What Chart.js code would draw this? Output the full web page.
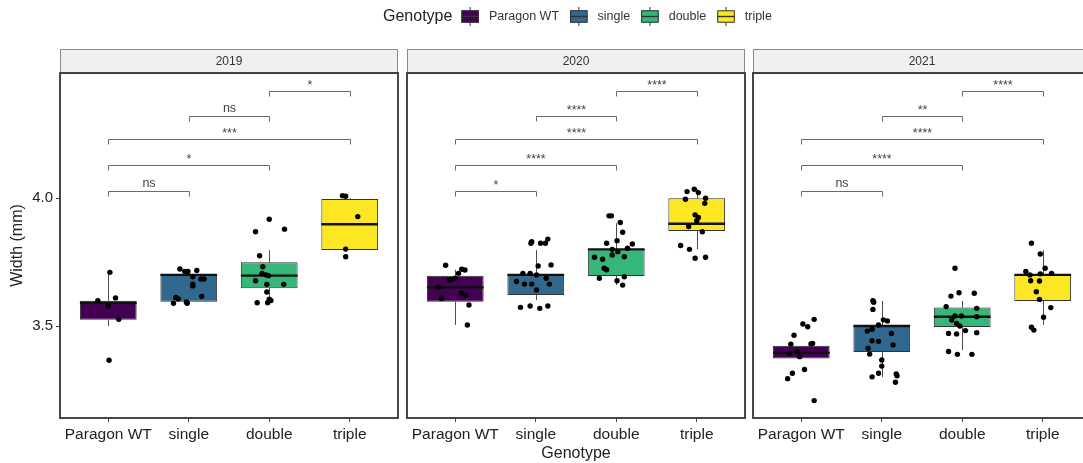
<!DOCTYPE html>
<html>
<head>
<meta charset="utf-8">
<script src="https://cdn.jsdelivr.net/npm/chart.js@4.4.1/dist/chart.umd.min.js"></script>
<style>
  html, body { margin: 0; padding: 0; background: #fff; }
  #wrap { position: relative; width: 1083px; height: 463px; overflow: hidden; background: #fff; }
  #wrap canvas { position: absolute; left: 0; top: 0; }
</style>
</head>
<body>
<div id="wrap">
  <canvas id="c0" width="1100" height="463"></canvas>
  <canvas id="c1" width="1100" height="463"></canvas>
  <canvas id="c2" width="1100" height="463"></canvas>
</div>
<script>
// ---- data ----
const years = ['2019', '2020', '2021'];
const genotypes = ['Paragon WT', 'single', 'double', 'triple'];
const genotypeColors = ['#440154', '#31688E', '#35B779', '#FDE725'];
const yTicks = [3.5, 4.0];
const yTickLabels = ['3.5', '4.0'];

// box summaries: one row per year, one entry per genotype
const whiskerLow    = [[3.500, 3.589, 3.590, 3.797], [3.504, 3.602, 3.660, 3.800], [3.373, 3.300, 3.406, 3.504]];
const lowerQuartile = [[3.524, 3.595, 3.648, 3.797], [3.595, 3.621, 3.696, 3.872], [3.373, 3.398, 3.496, 3.598]];
const medianWidth   = [[3.590, 3.700, 3.697, 3.898], [3.651, 3.700, 3.800, 3.900], [3.395, 3.500, 3.536, 3.700]];
const upperQuartile = [[3.599, 3.700, 3.749, 3.997], [3.697, 3.700, 3.800, 4.000], [3.423, 3.501, 3.572, 3.700]];
const whiskerHigh   = [[3.710, 3.720, 3.797, 4.000], [3.720, 3.797, 3.902, 4.035], [3.423, 3.598, 3.598, 3.797]];

// individual grain widths (mm) and their horizontal jitter (category units)
const widths2019 = [
  [3.710, 3.610, 3.599, 3.578, 3.526, 3.366],
  [3.723, 3.713, 3.713, 3.717, 3.693, 3.684, 3.684, 3.664, 3.657, 3.616, 3.612, 3.606, 3.589, 3.594, 3.589],
  [3.918, 3.869, 3.879, 3.775, 3.732, 3.706, 3.700, 3.697, 3.677, 3.663, 3.663, 3.633, 3.605, 3.591, 3.591, 3.600],
  [4.010, 4.008, 3.928, 3.801, 3.771]
];
const jitter2019 = [
  [0.02, 0.09, -0.13, 0.00, 0.13, 0.01],
  [-0.11, -0.05, -0.01, 0.10, 0.05, 0.15, 0.19, 0.05, 0.05, 0.16, -0.16, -0.13, -0.19, -0.03, -0.02],
  [0.00, -0.17, 0.19, -0.12, -0.08, -0.09, -0.04, -0.01, -0.17, -0.03, 0.18, -0.03, 0.00, -0.15, -0.02, 0.02],
  [-0.09, -0.05, 0.10, -0.05, -0.05]
];
const widths2020 = [
  [3.738, 3.722, 3.719, 3.706, 3.687, 3.680, 3.682, 3.652, 3.628, 3.620, 3.582, 3.504, 3.608],
  [3.824, 3.830, 3.824, 3.840, 3.824, 3.739, 3.735, 3.706, 3.706, 3.700, 3.664, 3.664, 3.687, 3.664, 3.674, 3.641, 3.573, 3.578, 3.569, 3.578],
  [3.931, 3.931, 3.905, 3.867, 3.834, 3.824, 3.821, 3.804, 3.791, 3.778, 3.771, 3.769, 3.761, 3.726, 3.720, 3.687, 3.693, 3.677, 3.660, 3.800],
  [4.026, 4.035, 4.022, 3.996, 4.000, 3.980, 3.935, 3.925, 3.912, 3.889, 3.869, 3.815, 3.800, 3.765, 3.769]
];
const jitter2020 = [
  [-0.12, 0.08, 0.12, 0.04, 0.00, -0.08, -0.05, -0.21, 0.08, 0.13, 0.17, 0.15, -0.17],
  [-0.06, -0.05, 0.06, 0.15, 0.12, 0.19, 0.03, -0.16, -0.07, 0.01, -0.14, -0.05, 0.13, 0.17, -0.24, 0.01, -0.19, -0.07, 0.05, 0.15],
  [-0.09, -0.06, 0.05, 0.08, 0.01, -0.12, 0.20, 0.14, 0.02, -0.05, 0.10, -0.27, -0.17, -0.15, -0.12, -0.21, 0.10, 0.01, 0.08, -0.05],
  [-0.12, -0.03, 0.02, -0.14, 0.11, 0.10, -0.02, 0.02, 0.00, -0.10, 0.07, -0.20, -0.09, -0.02, 0.11]
];
const widths2021 = [
  [3.526, 3.508, 3.497, 3.464, 3.429, 3.432, 3.430, 3.393, 3.380, 3.330, 3.315, 3.294, 3.208, 3.400],
  [3.599, 3.593, 3.565, 3.524, 3.520, 3.504, 3.487, 3.480, 3.471, 3.442, 3.440, 3.426, 3.413, 3.390, 3.367, 3.343, 3.315, 3.301, 3.312, 3.305, 3.280],
  [3.726, 3.617, 3.630, 3.628, 3.576, 3.569, 3.539, 3.539, 3.536, 3.523, 3.510, 3.500, 3.471, 3.469, 3.482, 3.474, 3.400, 3.389, 3.389],
  [3.824, 3.782, 3.726, 3.713, 3.700, 3.706, 3.704, 3.677, 3.676, 3.634, 3.604, 3.572, 3.534, 3.495, 3.484]
];
const jitter2021 = [
  [0.16, 0.02, 0.08, -0.09, -0.13, 0.14, 0.12, -0.15, -0.02, 0.04, -0.11, -0.17, 0.16, -0.05],
  [-0.11, -0.10, -0.11, 0.02, 0.07, -0.04, -0.12, -0.18, 0.12, -0.12, -0.04, 0.14, -0.17, -0.15, 0.00, 0.00, -0.04, -0.12, 0.18, 0.19, 0.17],
  [-0.09, -0.14, -0.04, 0.15, -0.20, 0.18, -0.09, -0.01, 0.18, -0.13, -0.07, -0.03, -0.17, -0.07, 0.04, 0.18, -0.17, -0.06, 0.12],
  [-0.14, -0.03, 0.03, -0.21, -0.16, 0.11, -0.03, -0.15, -0.04, -0.08, -0.04, 0.10, 0.01, -0.14, -0.11]
];
const widthsByYear = [widths2019, widths2020, widths2021];
const jitterByYear = [jitter2019, jitter2020, jitter2021];

// pairwise comparisons, the height of each bracket and its significance label
const comparisons = [[0, 1], [0, 2], [0, 3], [1, 2], [2, 3]];
const bracketLevels = [4.03, 4.13, 4.23, 4.32, 4.42];
const signif2019 = ['ns', '*', '***', 'ns', '*'];
const signif2020 = ['*', '****', '****', '****', '****'];
const signif2021 = ['ns', '****', '****', '**', '****'];
const signifByYear = [signif2019, signif2020, signif2021];

// ---- layout & style ----
const FONT = '"Liberation Sans", Arial, Helvetica, sans-serif';
const CANVAS_W = 1100;
const panelEdges = [[60, 398], [407, 745], [753, 1091]];
const PANEL_TOP = 73;
const STRIP_TOP = 49;
const INK = '#222222';

function drawLegend(ctx) {
  ctx.save();
  ctx.textBaseline = 'middle';
  ctx.fillStyle = INK;
  ctx.font = '16px ' + FONT;
  let x = 383;
  const cy = 16.5;
  ctx.fillText('Genotype', x, cy);
  x += ctx.measureText('Genotype').width + 9;
  ctx.font = '12.5px ' + FONT;
  genotypes.forEach((g, i) => {
    const kw = 17.5, cx = x + kw / 2;
    ctx.strokeStyle = '#333';
    ctx.lineWidth = 1;
    ctx.beginPath();
    ctx.moveTo(cx, 7); ctx.lineTo(cx, 26);
    ctx.stroke();
    ctx.fillStyle = genotypeColors[i];
    ctx.fillRect(x, 10.3, kw, 12.4);
    ctx.strokeRect(x + 0.5, 10.8, kw - 1, 11.4);
    ctx.lineWidth = 1.4;
    ctx.beginPath();
    ctx.moveTo(x, cy); ctx.lineTo(x + kw, cy);
    ctx.stroke();
    ctx.fillStyle = '#333';
    ctx.fillText(g, x + kw + 10, cy);
    x += kw + 10 + ctx.measureText(g).width + 11;
  });
  ctx.restore();
}

const boxplotPlugin = {
  id: 'boxplotParts',
  beforeDatasetsDraw(chart) {
    const p = chart.options.panelIndex;
    const { ctx, scales: { x, y } } = chart;
    ctx.save();
    ctx.strokeStyle = '#4d4d4d';
    ctx.lineWidth = 1;
    genotypes.forEach((g, i) => {
      const px = Math.round(x.getPixelForValue(i)) + 0.5;
      ctx.beginPath();
      ctx.moveTo(px, y.getPixelForValue(upperQuartile[p][i]));
      ctx.lineTo(px, y.getPixelForValue(whiskerHigh[p][i]));
      ctx.moveTo(px, y.getPixelForValue(lowerQuartile[p][i]));
      ctx.lineTo(px, y.getPixelForValue(whiskerLow[p][i]));
      ctx.stroke();
    });
    ctx.restore();
  },
  afterDatasetDraw(chart, args) {
    if (args.index !== 0) return;
    const p = chart.options.panelIndex;
    const { ctx, scales: { y } } = chart;
    const bars = chart.getDatasetMeta(0).data;
    ctx.save();
    ctx.strokeStyle = '#111';
    ctx.lineWidth = 2.4;
    bars.forEach((bar, i) => {
      const py = y.getPixelForValue(medianWidth[p][i]);
      ctx.beginPath();
      ctx.moveTo(bar.x - bar.width / 2, py);
      ctx.lineTo(bar.x + bar.width / 2, py);
      ctx.stroke();
    });
    ctx.restore();
  },
  afterDraw(chart) {
    const p = chart.options.panelIndex;
    const { ctx, chartArea: a, scales: { x, y } } = chart;
    ctx.save();
    // strip
    ctx.fillStyle = '#f0f0f0';
    ctx.fillRect(a.left, STRIP_TOP, a.right - a.left, a.top - STRIP_TOP);
    ctx.strokeStyle = '#8a8a8a';
    ctx.lineWidth = 1;
    ctx.strokeRect(a.left + 0.5, STRIP_TOP + 0.5, a.right - a.left - 1, a.top - STRIP_TOP);
    ctx.fillStyle = '#333';
    ctx.font = '12px ' + FONT;
    ctx.textAlign = 'center';
    ctx.textBaseline = 'middle';
    ctx.fillText(years[p], (a.left + a.right) / 2, (STRIP_TOP + a.top) / 2 + 0.5);
    // panel border
    ctx.strokeStyle = '#333';
    ctx.lineWidth = 1.8;
    ctx.strokeRect(a.left, a.top, a.right - a.left, a.bottom - a.top);
    // significance brackets
    ctx.strokeStyle = '#6a6a6a';
    ctx.lineWidth = 1;
    ctx.fillStyle = '#444';
    ctx.textBaseline = 'alphabetic';
    comparisons.forEach(([i, j], k) => {
      const x1 = Math.round(x.getPixelForValue(i)) + 0.5;
      const x2 = Math.round(x.getPixelForValue(j)) + 0.5;
      const py = Math.round(y.getPixelForValue(bracketLevels[k])) + 0.5;
      ctx.beginPath();
      ctx.moveTo(x1, py + 5); ctx.lineTo(x1, py);
      ctx.lineTo(x2, py); ctx.lineTo(x2, py + 5);
      ctx.stroke();
      const label = signifByYear[p][k];
      ctx.font = '12.5px ' + FONT;
      const lift = label === 'ns' ? 5 : 3;
      ctx.fillText(label, (x1 + x2) / 2, py - lift);
    });
    ctx.restore();
    if (p === 0) drawLegend(ctx);
  }
};

function makePanel(p) {
  const [left, right] = panelEdges[p];
  const boxes = genotypes.map((g, i) => ({ x: i, y: [lowerQuartile[p][i], upperQuartile[p][i]] }));
  const points = [];
  widthsByYear[p].forEach((vals, i) => {
    vals.forEach((v, k) => points.push({ x: i + jitterByYear[p][i][k], y: v }));
  });
  const ctx = document.getElementById('c' + p).getContext('2d');
  return new Chart(ctx, {
    type: 'bar',
    data: {
      datasets: [
        {
          type: 'bar', data: boxes, backgroundColor: genotypeColors,
          borderColor: '#333', borderWidth: 1, borderSkipped: false,
          barPercentage: 0.705, categoryPercentage: 1, order: 2
        },
        {
          type: 'scatter', data: points, pointRadius: 2.7, pointHoverRadius: 2.7,
          backgroundColor: '#000', borderWidth: 0, order: 1
        }
      ]
    },
    options: {
      panelIndex: p,
      responsive: false,
      animation: false,
      devicePixelRatio: 1,
      events: [],
      layout: { padding: { left: p === 0 ? 0 : left, right: CANVAS_W - right, top: PANEL_TOP, bottom: 0 } },
      plugins: { legend: { display: false }, tooltip: { enabled: false } },
      scales: {
        x: {
          type: 'linear', min: -0.6, max: 3.6, offset: false,
          afterBuildTicks: s => { s.ticks = genotypes.map((g, i) => ({ value: i })); },
          afterFit: s => { s.height = 45; },
          ticks: {
            callback: (v, i) => genotypes[i], autoSkip: false, maxRotation: 0, minRotation: 0,
            font: { family: FONT, size: 15.5 }, color: INK, padding: 3
          },
          grid: { offset: false, drawOnChartArea: false, drawTicks: true, tickLength: 4, color: '#444' },
          border: { display: false },
          title: {
            display: p === 1, text: 'Genotype', color: INK,
            font: { family: FONT, size: 16 }, padding: { top: 0, bottom: 0 }
          }
        },
        y: {
          display: p === 0,
          min: 3.14, max: 4.49,
          afterBuildTicks: s => { s.ticks = yTicks.map(v => ({ value: v })); },
          afterFit: s => { s.width = p === 0 ? 60 : 0; },
          ticks: {
            callback: (v, i) => yTickLabels[i],
            font: { family: FONT, size: 15 }, color: INK, padding: 3
          },
          grid: { drawOnChartArea: false, drawTicks: true, tickLength: 4, color: '#444' },
          border: { display: false },
          title: {
            display: true, text: 'Width (mm)', color: INK,
            font: { family: FONT, size: 16 }, padding: { top: 8.4, bottom: 0 }
          }
        }
      }
    },
    plugins: [boxplotPlugin]
  });
}

years.forEach((yr, p) => makePanel(p));
</script>
</body>
</html>
